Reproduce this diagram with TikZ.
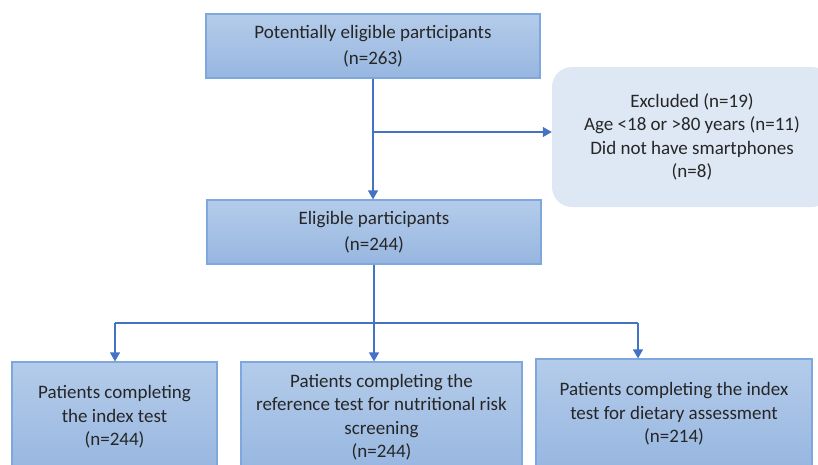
\documentclass[tikz,border=0pt]{standalone}
\usepackage{fontspec}
\setmainfont{Carlito}
\usetikzlibrary{arrows.meta}
\definecolor{boxtop}{HTML}{B4CCEA}
\definecolor{boxbot}{HTML}{97B6E0}
\definecolor{boxline}{HTML}{7EA8DD}
\definecolor{conn}{HTML}{4472C4}
\definecolor{exfill}{HTML}{DEE8F4}
\definecolor{txt}{HTML}{262626}
\tikzset{
  flowbox/.style={draw=boxline, line width=1.2pt, top color=boxtop, bottom color=boxbot,
    align=center, text=txt, inner sep=0pt,
    font=\fontsize{19}{23.5}\selectfont},
  exbox/.style={fill=exfill, rounded corners=20pt, align=center, text=txt, inner sep=0pt,
    font=\fontsize{19}{23.5}\selectfont},
  conn/.style={draw=conn, line width=1.2pt},
  arr/.style={conn, -{Triangle[width=10pt,length=9pt]}}
}
\begin{document}
\begin{tikzpicture}[x=1pt,y=-1pt]
\useasboundingbox (0,0) rectangle (818,464);
\clip (0,0) rectangle (818,464);
\node[flowbox, minimum width=334pt, minimum height=64pt, font=\fontsize{19}{26}\selectfont] (top) at (373,46)
  {Potentially eligible participants\\(n=263)};
\node[exbox, minimum width=280pt, minimum height=140pt] (ex) at (692,137)
  {Excluded (n=19)\\Age <18 or >80 years (n=11)\\Did not have smartphones\\(n=8)};
\node[flowbox, minimum width=334pt, minimum height=64pt, font=\fontsize{19}{26}\selectfont] (elig) at (374,232)
  {Eligible participants\\(n=244)};
\node[flowbox, minimum width=205pt, minimum height=110pt] (b1) at (114.5,417)
  {Patients completing\\the index test\\(n=244)};
\node[flowbox, minimum width=281pt, minimum height=110pt] (b2) at (381.5,417)
  {Patients completing the\\reference test for nutritional risk\\screening\\(n=244)};
\node[flowbox, minimum width=276pt, minimum height=110pt] (b3) at (674,414)
  {Patients completing the index\\test for dietary assessment\\(n=214)};
\coordinate (split) at (373,132);
\coordinate (bus) at (374,323);
\coordinate (busL) at (115,323);
\coordinate (busR) at (638,323);
\draw[arr] (top.south -| split) -- (elig.north -| split);
\draw[arr] (split) -- (ex.west |- split);
\draw[arr] (elig.south -| bus) -- (b2.north -| bus);
\draw[conn] (busL) -- (busR);
\draw[arr] (busL) -- (b1.north -| busL);
\draw[arr] (busR) -- (b3.north -| busR);
\end{tikzpicture}
\end{document}
